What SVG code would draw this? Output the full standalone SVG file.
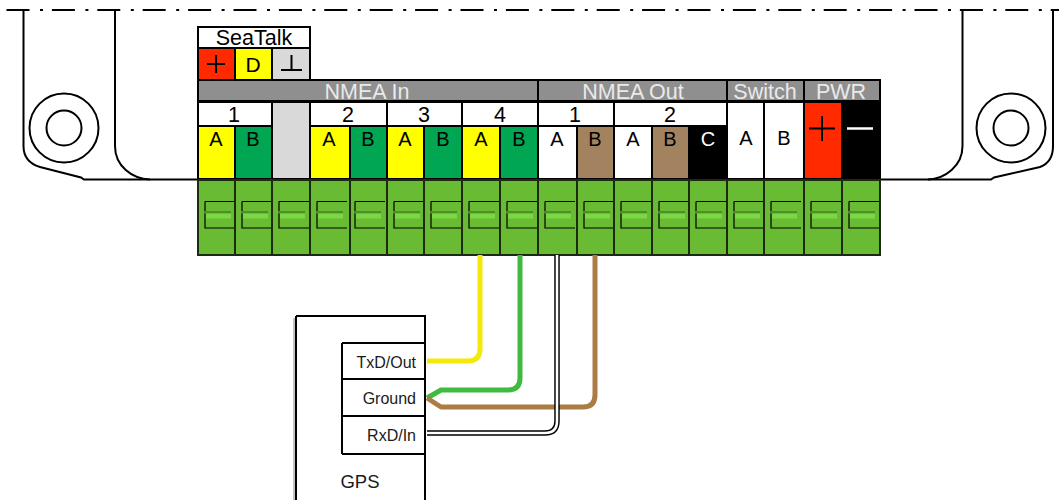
<svg xmlns="http://www.w3.org/2000/svg" width="1059" height="500" viewBox="0 0 1059 500">
<defs>
<style>
text{font-family:"Liberation Sans",Arial,sans-serif;text-anchor:middle}
.l{font-size:21.5px;fill:#000}
.d{font-size:21px;fill:#000}
.h{font-size:21.500px;fill:#eaeaea}
.t{font-size:20px;fill:#000}
.w{font-size:20px;fill:#fff}
.g{font-size:16px;fill:#1a1a1a;text-anchor:end}
.o{fill:none;stroke:#000;stroke-width:2}
.c{stroke:#000;stroke-width:2}
.y{fill:#ffff00}.n{fill:#00a651}.x{fill:#fff}.b{fill:#a3835f}.k{fill:#000}.r{fill:#ff2a00}.e{fill:#d9d9d9}.a{fill:#8f8f8f}
.p{fill:#69bb34;stroke:#1c2a10;stroke-width:2}
.wire{fill:none;stroke-width:5;stroke-linejoin:round}
</style>
<g id="screw"><path d="M205 201.500H235M205 201.500V228H235" fill="none" stroke="#000" stroke-width="1.200"/><rect x="204" y="211" width="27" height="2.500" fill="#4f8f2b"/><rect x="206" y="213.500" width="25" height="5" fill="#7ad943"/></g>
</defs>
<g id="housing">
<path class="o" stroke-dasharray="23 10.500 3 8.900" d="M6.500 10H1059"/>
<path class="o" d="M23.500 10V146C23.500 158 30 164 40 167L81 177.500L84 179.500H198"/>
<path class="o" d="M115 10V146C115 166 132 179 150 179.500"/>
<circle class="o" cx="64" cy="128" r="34.500"/><circle class="o" cx="64" cy="128" r="17.500"/>
<path class="o" d="M1053 10V146C1053 158 1048 164 1040 167L994 177.500L991 179.500H880"/>
<path class="o" d="M962.500 10V146C962.500 166 945 179 928 179.500"/>
<circle class="o" cx="1011" cy="128" r="34.500"/><circle class="o" cx="1011" cy="128" r="17.500"/>
</g>
<g id="seatalk">
<rect class="x c" x="198" y="27" width="112" height="21"/>
<text class="l" x="254" y="45">SeaTalk</text>
<rect class="r c" x="198" y="48" width="37" height="32"/><path class="c" d="M207 64H225M216 55V73"/>
<rect class="y c" x="235" y="48" width="37" height="32"/><text class="d" x="253" y="72">D</text>
<rect class="e c" x="272" y="48" width="38" height="32"/><path class="c" d="M281 70H302M291.500 55V70"/>
</g>
<g id="headers">
<rect class="a c" x="198" y="80" width="340" height="21"/><text class="h" x="367" y="99">NMEA In</text>
<rect class="a c" x="538" y="80" width="189" height="21"/><text class="h" x="633" y="99">NMEA Out</text>
<rect class="a c" x="727" y="80" width="77" height="21"/><text class="h" x="765" y="99">Switch</text>
<rect class="a c" x="804" y="80" width="76" height="21"/><text class="h" x="841" y="99">PWR</text>
</g>
<g id="groups">
<rect class="x c" x="198" y="102" width="74" height="24"/><text class="l" x="234" y="122">1</text>
<rect class="x c" x="310" y="102" width="77" height="24"/><text class="l" x="348" y="122">2</text>
<rect class="x c" x="387" y="102" width="75" height="24"/><text class="l" x="424" y="122">3</text>
<rect class="x c" x="462" y="102" width="76" height="24"/><text class="l" x="500" y="122">4</text>
<rect class="x c" x="538" y="102" width="76" height="24"/><text class="l" x="575" y="122">1</text>
<rect class="x c" x="614" y="102" width="113" height="24"/><text class="l" x="670" y="122">2</text>
</g>
<g id="terminals">
<rect class="y c" x="198" y="126" width="37" height="53"/><text class="t" x="216" y="146">A</text>
<rect class="n c" x="235" y="126" width="37" height="53"/><text class="t" x="253" y="146">B</text>
<rect class="e c" x="272" y="102" width="38" height="77"/>
<rect class="y c" x="310" y="126" width="40" height="53"/><text class="t" x="329" y="146">A</text>
<rect class="n c" x="350" y="126" width="37" height="53"/><text class="t" x="368" y="146">B</text>
<rect class="y c" x="387" y="126" width="37" height="53"/><text class="t" x="405" y="146">A</text>
<rect class="n c" x="424" y="126" width="38" height="53"/><text class="t" x="443" y="146">B</text>
<rect class="y c" x="462" y="126" width="38" height="53"/><text class="t" x="481" y="146">A</text>
<rect class="n c" x="500" y="126" width="38" height="53"/><text class="t" x="519" y="146">B</text>
<rect class="x c" x="538" y="126" width="39" height="53"/><text class="t" x="557" y="146">A</text>
<rect class="b c" x="577" y="126" width="37" height="53"/><text class="t" x="595" y="146">B</text>
<rect class="x c" x="614" y="126" width="38" height="53"/><text class="t" x="633" y="146">A</text>
<rect class="b c" x="652" y="126" width="37" height="53"/><text class="t" x="670" y="146">B</text>
<rect class="k c" x="689" y="126" width="38" height="53"/><text class="w" x="708" y="146">C</text>
<rect class="x c" x="727" y="102" width="37" height="77"/><text class="t" x="746" y="145">A</text>
<rect class="x c" x="764" y="102" width="40" height="77"/><text class="t" x="784" y="145">B</text>
<rect class="r c" x="804" y="102" width="38" height="77"/><path class="c" d="M809 128.500H835M822 116V141"/>
<rect class="k c" x="842" y="102" width="38" height="77"/><path d="M847 128.500H873" stroke="#fff" stroke-width="2.500"/>
</g>
<g id="connector-block">
<rect class="p" x="198" y="180" width="37" height="75"/><use href="#screw"/>
<rect class="p" x="235" y="180" width="37" height="75"/><use href="#screw" x="37"/>
<rect class="p" x="272" y="180" width="38" height="75"/><use href="#screw" x="74"/>
<rect class="p" x="310" y="180" width="40" height="75"/><use href="#screw" x="112"/>
<rect class="p" x="350" y="180" width="37" height="75"/><use href="#screw" x="150"/>
<rect class="p" x="387" y="180" width="37" height="75"/><use href="#screw" x="189"/>
<rect class="p" x="424" y="180" width="38" height="75"/><use href="#screw" x="226"/>
<rect class="p" x="462" y="180" width="38" height="75"/><use href="#screw" x="264"/>
<rect class="p" x="500" y="180" width="38" height="75"/><use href="#screw" x="302"/>
<rect class="p" x="538" y="180" width="39" height="75"/><use href="#screw" x="340"/>
<rect class="p" x="577" y="180" width="37" height="75"/><use href="#screw" x="379"/>
<rect class="p" x="614" y="180" width="38" height="75"/><use href="#screw" x="416"/>
<rect class="p" x="652" y="180" width="37" height="75"/><use href="#screw" x="454"/>
<rect class="p" x="689" y="180" width="38" height="75"/><use href="#screw" x="491"/>
<rect class="p" x="727" y="180" width="37" height="75"/><use href="#screw" x="529"/>
<rect class="p" x="764" y="180" width="40" height="75"/><use href="#screw" x="566"/>
<rect class="p" x="804" y="180" width="38" height="75"/><use href="#screw" x="606"/>
<rect class="p" x="842" y="180" width="38" height="75"/><use href="#screw" x="644"/>
</g>
<g id="gps">
<rect x="293" y="318" width="3" height="182" fill="#999" opacity=".6"/>
<path class="o" d="M296 316H425V500M296 316V500"/>
<path class="o" d="M342 343H425M342 379H425M342 416H425M342 454H425M342 343V454"/>
<text class="g" x="416" y="368">TxD/Out</text>
<text class="g" x="416" y="404">Ground</text>
<text class="g" x="416" y="441">RxD/In</text>
<text x="360" y="488" style="font-size:18.500px;fill:#1a1a1a">GPS</text>
</g>
<g id="connectors">
<path class="wire" stroke="#f5e90a" d="M480 255V349Q480 361 468 361H427"/>
<path class="wire" stroke="#40bb3f" d="M520 255V378Q520 390 508 390H441L427 398"/>
<path class="wire" stroke="#ab7d45" d="M595 255V395Q595 407 583 407H441L427 398"/>
<path fill="none" stroke="#000" stroke-width="5.500" d="M557 255V421Q557 433 545 433H427"/>
<path fill="none" stroke="#fff" stroke-width="2.600" d="M557 255V421Q557 433 545 433H427"/>
</g>
</svg>
